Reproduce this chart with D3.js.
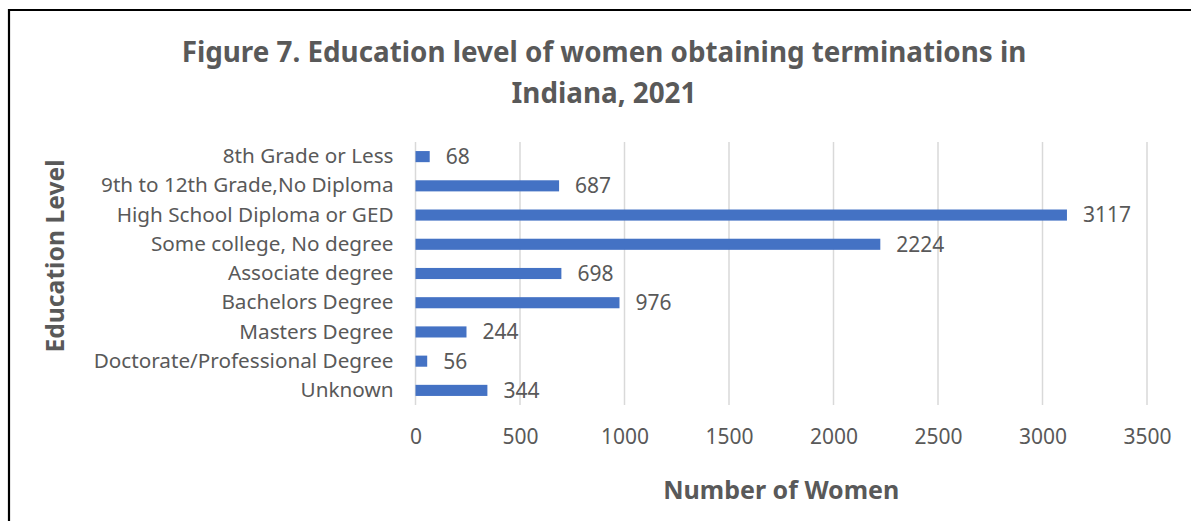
<!DOCTYPE html>
<html><head><meta charset="utf-8">
<script src="https://cdn.jsdelivr.net/npm/d3@7"></script>
<style>
html,body{margin:0;padding:0;background:#fff;}
svg{display:block;font-family:"Noto Sans","Open Sans",sans-serif;}
</style></head>
<body>
<svg id="chart" width="1191" height="521"></svg>
<script>
const categories = ["8th Grade or Less","9th to 12th Grade,No Diploma","High School Diploma or GED","Some college, No degree","Associate degree","Bachelors Degree","Masters Degree","Doctorate/Professional Degree","Unknown"];
const values = [68,687,3117,2224,698,976,244,56,344];
const xTicks = [0,500,1000,1500,2000,2500,3000,3500];
const titleLines = ["Figure 7. Education level of women obtaining terminations in","Indiana, 2021"];
const xTitle = "Number of Women";
const yTitle = "Education Level";

(function(){
const svg = d3.select("#chart");
const textColor = "#595959";
const ff = "'Noto Sans','Open Sans',sans-serif";

// frame
svg.append("path").attr("d","M9,530 V10 H1200").attr("fill","none").attr("stroke","#000").attr("stroke-width",2.2);

const pLeft = 415.5, pRight = 1147, pTop = 142, pBottom = 405;
const x = d3.scaleLinear().domain([0,3500]).range([pLeft,pRight]);
const y = d3.scaleBand().domain(categories).range([pTop,pBottom]).paddingInner(0.62).paddingOuter(0.31);

// gridlines
svg.append("g").selectAll("line").data(xTicks).join("line")
  .attr("x1",d=>x(d)).attr("x2",d=>x(d)).attr("y1",pTop).attr("y2",pBottom)
  .attr("stroke","#d9d9d9").attr("stroke-width",1.5);

// x axis labels
const xAxis = d3.axisBottom(x).tickValues(xTicks).tickSize(0).tickPadding(0).tickFormat(d3.format("d"));
const gx = svg.append("g").attr("transform",`translate(0,${pBottom+24})`).call(xAxis);
gx.select(".domain").remove();
gx.selectAll("text").attr("fill",textColor).attr("font-size",21).attr("font-family",ff);

// y axis labels
const yAxis = d3.axisLeft(y).tickSize(0).tickPadding(22);
const gy = svg.append("g").attr("transform",`translate(${pLeft},0)`).call(yAxis);
gy.select(".domain").remove();
gy.selectAll("text").attr("fill",textColor).attr("font-size",20.7).attr("font-family",ff);

// bars
svg.append("g").selectAll("rect").data(categories).join("rect")
  .attr("x",x(0)).attr("y",d=>y(d)).attr("height",y.bandwidth())
  .attr("width",(d,i)=>x(values[i])-x(0)).attr("fill","#4472C4");

// value labels
svg.append("g").selectAll("text").data(categories).join("text")
  .attr("x",(d,i)=>x(values[i])+16).attr("y",d=>y(d)+y.bandwidth()/2)
  .attr("dy","0.35em").attr("fill",textColor).attr("font-size",21)
  .text((d,i)=>values[i]);

// title
svg.append("g").selectAll("text").data(titleLines).join("text")
  .attr("x",604).attr("y",(d,i)=>62+i*41).attr("text-anchor","middle")
  .attr("font-size",27.8).attr("font-weight","bold").attr("fill",textColor).text(d=>d);

// axis titles
svg.append("text").attr("x",(pLeft+pRight)/2).attr("y",499).attr("text-anchor","middle")
  .attr("font-size",25).attr("font-weight","bold").attr("fill",textColor).text(xTitle);
svg.append("text").attr("transform","translate(64,256) rotate(-90)").attr("text-anchor","middle")
  .attr("font-size",24.7).attr("font-weight","bold").attr("fill",textColor).text(yTitle);
})();
</script>
</body></html>
